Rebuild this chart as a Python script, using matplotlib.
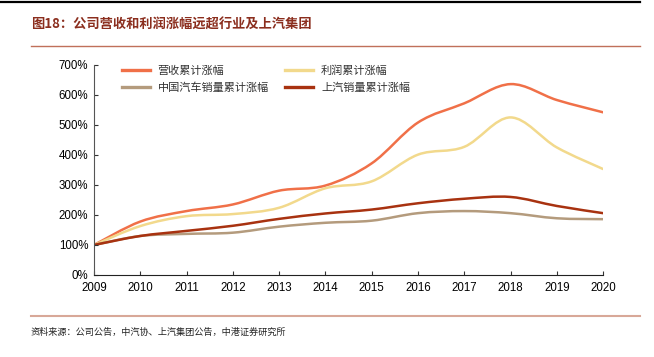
import matplotlib
matplotlib.use("Agg")
import matplotlib.pyplot as plt
import numpy as np
from matplotlib.path import Path
from matplotlib.patches import PathPatch
from matplotlib.lines import Line2D

plt.rcParams['font.family'] = ['Liberation Sans', 'Noto Sans CJK SC', 'DejaVu Sans']

years = [2009, 2010, 2011, 2012, 2013, 2014, 2015, 2016, 2017, 2018, 2019, 2020]
revenue = [100, 178, 213, 235, 281, 298, 372, 508, 572, 636, 583, 542]
profit = [100, 163, 196, 203, 224, 289, 312, 401, 427, 525, 425, 353]
china_sales = [100, 130, 137, 141, 161, 174, 181, 206, 213, 206, 189, 186]
saic_sales = [100, 130, 147, 164, 187, 205, 218, 239, 254, 260, 230, 206]

names = ['营收累计涨幅', '利润累计涨幅', '中国汽车销量累计涨幅', '上汽销量累计涨幅']
colors = ['#F07048', '#F2D98C', '#B49B7D', '#A83210']
series = [revenue, profit, china_sales, saic_sales]


def smooth_path(x, y, tension=1 / 6):
    # catmull-rom style bezier, like excel's smoothed lines
    x = np.asarray(x, float)
    y = np.asarray(y, float)
    verts = [(x[0], y[0])]
    codes = [Path.MOVETO]
    n = len(x)
    for i in range(n - 1):
        p0 = (x[max(i - 1, 0)], y[max(i - 1, 0)])
        p1 = (x[i], y[i])
        p2 = (x[i + 1], y[i + 1])
        p3 = (x[min(i + 2, n - 1)], y[min(i + 2, n - 1)])
        c1 = (p1[0] + (p2[0] - p0[0]) * tension, p1[1] + (p2[1] - p0[1]) * tension)
        c2 = (p2[0] - (p3[0] - p1[0]) * tension, p2[1] - (p3[1] - p1[1]) * tension)
        verts += [c1, c2, p2]
        codes += [Path.CURVE4] * 3
    return Path(verts, codes)


fig = plt.figure(figsize=(6.54, 3.57), dpi=100)
ax = fig.add_axes([0.1437, 0.2297, 0.7785, 0.5885])

for vals, c in zip(series, colors):
    patch = PathPatch(smooth_path(years, vals), facecolor='none', edgecolor=c,
                      lw=1.8, capstyle='round', joinstyle='round')
    ax.add_patch(patch)

ax.set_xlim(2009, 2020)
ax.set_ylim(0, 700)
ax.set_xticks(years)
ax.set_yticks(range(0, 701, 100))
ax.set_yticklabels([f'{v}%' for v in range(0, 701, 100)])
ax.tick_params(axis='both', direction='in', length=3, labelsize=8.3, color='#333333', pad=4)
ax.tick_params(axis='x', pad=5)
for s in ['top', 'right']:
    ax.spines[s].set_visible(False)
ax.spines['left'].set_color('#555555')
ax.spines['bottom'].set_color('#222222')

# legend fills column-wise, so order for rows: 营收/利润, 中国/上汽
handles = [Line2D([0], [0], color=c, lw=2.4) for c in colors]
order = [0, 2, 1, 3]
ax.legend([handles[i] for i in order], [names[i] for i in order], ncol=2, frameon=False,
          loc='upper left', bbox_to_anchor=(0.055, 1.0), borderpad=0, borderaxespad=0,
          handlelength=2.5, columnspacing=1.5, labelspacing=0.6, handletextpad=0.7,
          prop={'family': ['Noto Sans CJK SC'], 'size': 8}, labelcolor='#333333')

# header and footer decoration
fig.add_artist(Line2D([0.0, 0.978], [0.994, 0.994], color='black', lw=1.6, transform=fig.transFigure))
fig.text(0.047, 0.93, '图18：公司营收和利润涨幅远超行业及上汽集团', fontsize=9.5, fontweight='bold',
         color='#8B2E1E', va='center', ha='left', family=['Noto Sans CJK SC'])
fig.add_artist(Line2D([0.047, 0.978], [0.871, 0.871], color='#C0705A', lw=1.0, transform=fig.transFigure))
fig.add_artist(Line2D([0.047, 0.978], [0.115, 0.115], color='#D8A898', lw=1.5, transform=fig.transFigure))
fig.text(0.047, 0.068, '资料来源：公司公告，中汽协、上汽集团公告，中港证券研究所', fontsize=6.6,
         color='#222222', va='center', ha='left', style='italic', family=['Noto Sans CJK SC'])

fig.savefig('out.png', dpi=100)
